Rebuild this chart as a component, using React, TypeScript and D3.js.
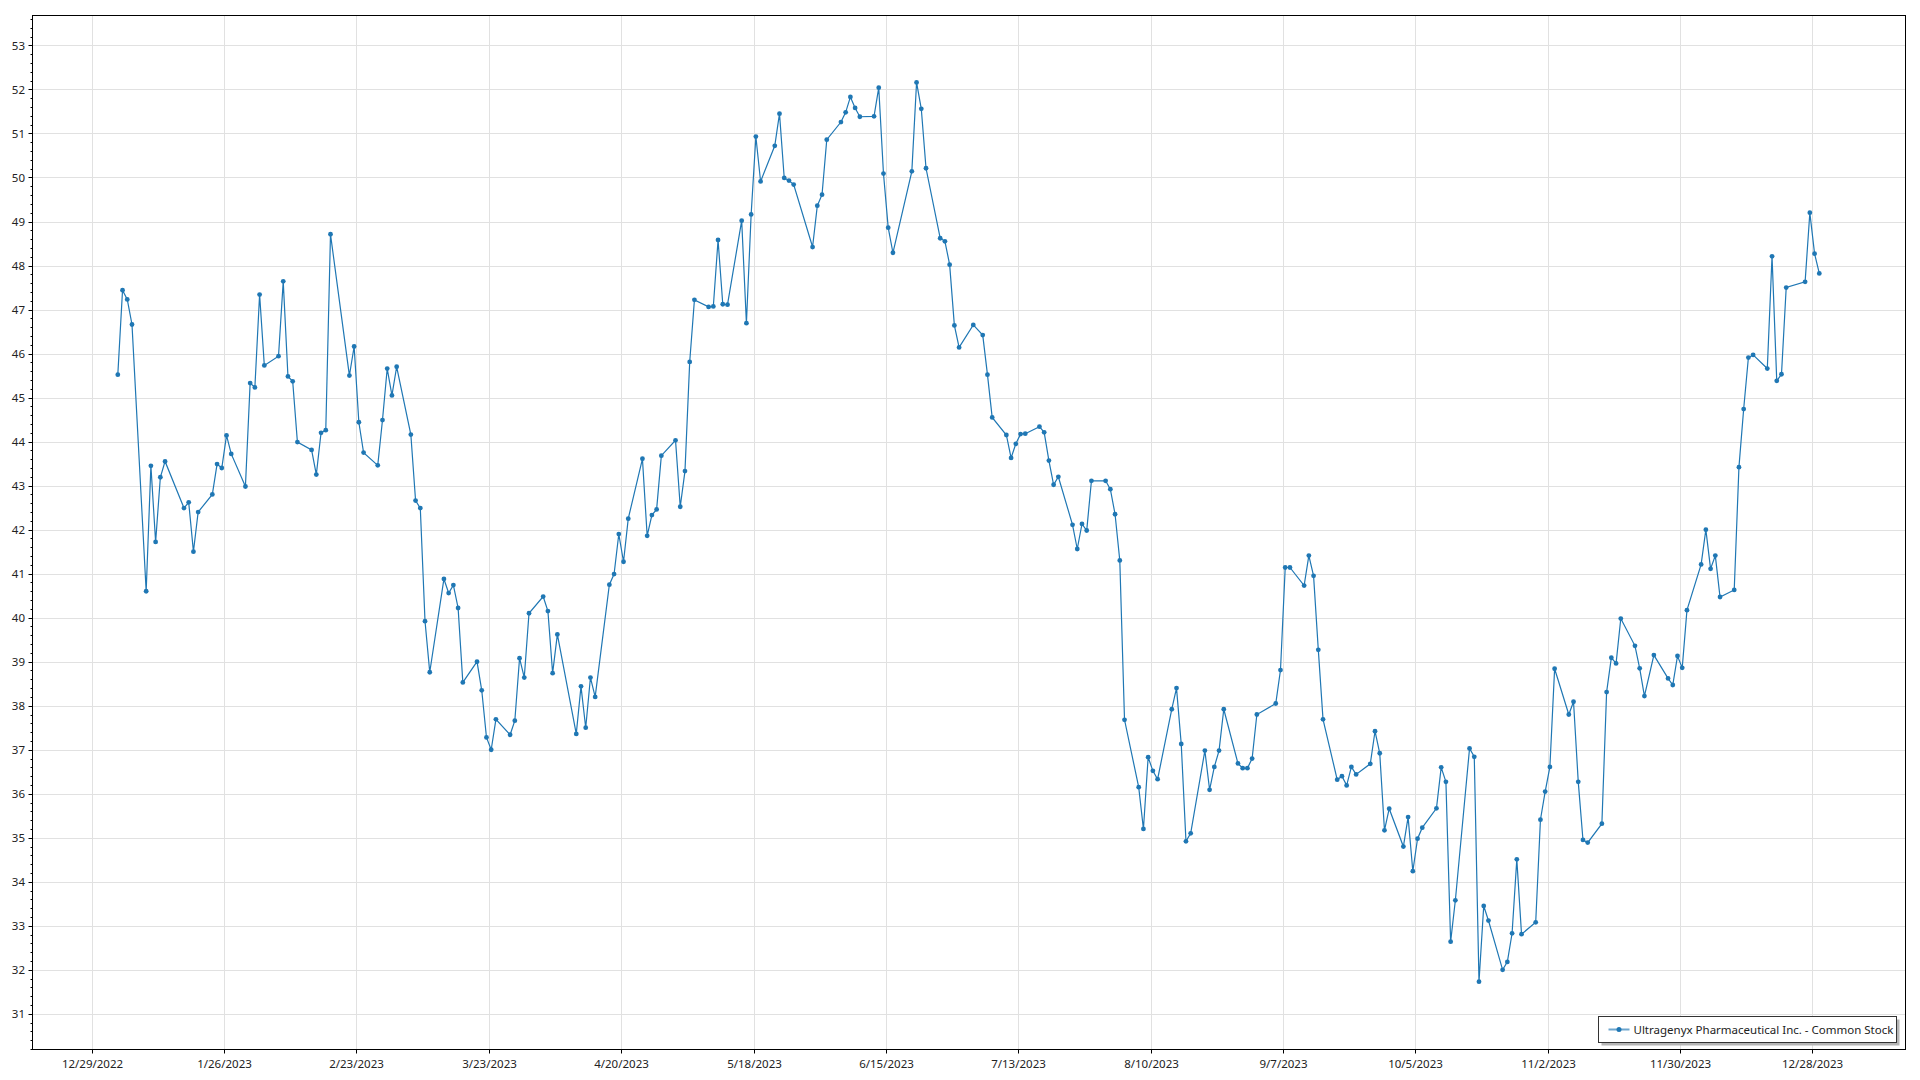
import React from 'react';
import * as d3 from 'd3';

const seriesName = 'Ultragenyx Pharmaceutical Inc. - Common Stock';

const tradingDates: string[] = [
  '2023-01-03','2023-01-04','2023-01-05','2023-01-06','2023-01-09','2023-01-10','2023-01-11','2023-01-12','2023-01-13','2023-01-17',
  '2023-01-18','2023-01-19','2023-01-20','2023-01-23','2023-01-24','2023-01-25','2023-01-26','2023-01-27','2023-01-30','2023-01-31',
  '2023-02-01','2023-02-02','2023-02-03','2023-02-06','2023-02-07','2023-02-08','2023-02-09','2023-02-10','2023-02-13','2023-02-14',
  '2023-02-15','2023-02-16','2023-02-17','2023-02-21','2023-02-22','2023-02-23','2023-02-24','2023-02-27','2023-02-28',
  '2023-03-01','2023-03-02','2023-03-03','2023-03-06','2023-03-07','2023-03-08','2023-03-09','2023-03-10','2023-03-13','2023-03-14',
  '2023-03-15','2023-03-16','2023-03-17','2023-03-20','2023-03-21','2023-03-22','2023-03-23','2023-03-24','2023-03-27','2023-03-28',
  '2023-03-29','2023-03-30','2023-03-31',
  '2023-04-03','2023-04-04','2023-04-05','2023-04-06','2023-04-10','2023-04-11','2023-04-12','2023-04-13','2023-04-14','2023-04-17',
  '2023-04-18','2023-04-19','2023-04-20','2023-04-21','2023-04-24','2023-04-25','2023-04-26','2023-04-27','2023-04-28',
  '2023-05-01','2023-05-02','2023-05-03','2023-05-04','2023-05-05','2023-05-08','2023-05-09','2023-05-10','2023-05-11','2023-05-12',
  '2023-05-15','2023-05-16','2023-05-17','2023-05-18','2023-05-19','2023-05-22','2023-05-23','2023-05-24','2023-05-25','2023-05-26',
  '2023-05-30','2023-05-31',
  '2023-06-01','2023-06-02','2023-06-05','2023-06-06','2023-06-07','2023-06-08','2023-06-09','2023-06-12','2023-06-13','2023-06-14',
  '2023-06-15','2023-06-16','2023-06-20','2023-06-21','2023-06-22','2023-06-23','2023-06-26','2023-06-27','2023-06-28','2023-06-29',
  '2023-06-30',
  '2023-07-03','2023-07-05','2023-07-06','2023-07-07','2023-07-10','2023-07-11','2023-07-12','2023-07-13','2023-07-14','2023-07-17',
  '2023-07-18','2023-07-19','2023-07-20','2023-07-21','2023-07-24','2023-07-25','2023-07-26','2023-07-27','2023-07-28','2023-07-31',
  '2023-08-01','2023-08-02','2023-08-03','2023-08-04','2023-08-07','2023-08-08','2023-08-09','2023-08-10','2023-08-11','2023-08-14',
  '2023-08-15','2023-08-16','2023-08-17','2023-08-18','2023-08-21','2023-08-22','2023-08-23','2023-08-24','2023-08-25','2023-08-28',
  '2023-08-29','2023-08-30','2023-08-31',
  '2023-09-01','2023-09-05','2023-09-06','2023-09-07','2023-09-08','2023-09-11','2023-09-12','2023-09-13','2023-09-14','2023-09-15',
  '2023-09-18','2023-09-19','2023-09-20','2023-09-21','2023-09-22','2023-09-25','2023-09-26','2023-09-27','2023-09-28','2023-09-29',
  '2023-10-02','2023-10-03','2023-10-04','2023-10-05','2023-10-06','2023-10-09','2023-10-10','2023-10-11','2023-10-12','2023-10-13',
  '2023-10-16','2023-10-17','2023-10-18','2023-10-19','2023-10-20','2023-10-23','2023-10-24','2023-10-25','2023-10-26','2023-10-27',
  '2023-10-30','2023-10-31',
  '2023-11-01','2023-11-02','2023-11-03','2023-11-06','2023-11-07','2023-11-08','2023-11-09','2023-11-10','2023-11-13','2023-11-14',
  '2023-11-15','2023-11-16','2023-11-17','2023-11-20','2023-11-21','2023-11-22','2023-11-24','2023-11-27','2023-11-28','2023-11-29',
  '2023-11-30',
  '2023-12-01','2023-12-04','2023-12-05','2023-12-06','2023-12-07','2023-12-08','2023-12-11','2023-12-12','2023-12-13','2023-12-14',
  '2023-12-15','2023-12-18','2023-12-19','2023-12-20','2023-12-21','2023-12-22','2023-12-26','2023-12-27','2023-12-28','2023-12-29',
];

const closePrices: number[] = [
  // Jan
  45.52, 47.44, 47.23, 46.66, 40.60, 43.45, 41.72, 43.19, 43.55, 42.49,
  42.62, 41.50, 42.40, 42.80, 43.49, 43.40, 44.14, 43.72, 42.98, 45.33,
  // Feb
  45.23, 47.34, 45.73, 45.94, 47.64, 45.48, 45.37, 43.99, 43.81, 43.25,
  44.20, 44.26, 48.71, 45.50, 46.16, 44.44, 43.75, 43.46, 44.49,
  // Mar
  45.66, 45.05, 45.70, 44.16, 42.66, 42.49, 39.92, 38.76, 40.88, 40.56,
  40.74, 40.22, 38.53, 39.00, 38.35, 37.28, 37.00, 37.69, 37.34, 37.66,
  39.08, 38.64, 40.10,
  // Apr
  40.48, 40.15, 38.74, 39.62, 37.36, 38.44, 37.50, 38.64, 38.20, 40.75,
  40.99, 41.90, 41.27, 42.25, 43.61, 41.86, 42.33, 42.46, 43.68,
  // May
  44.03, 42.52, 43.33, 45.81, 47.22, 47.06, 47.07, 48.58, 47.12, 47.11,
  49.02, 46.69, 49.16, 50.93, 49.91, 50.72, 51.45, 49.99, 49.93, 49.84,
  48.42, 49.36,
  // Jun
  49.61, 50.86, 51.26, 51.48, 51.83, 51.58, 51.38, 51.39, 52.04, 50.09,
  48.86, 48.29, 50.14, 52.16, 51.56, 50.21, 48.62, 48.55, 48.02, 46.64,
  46.14,
  // Jul
  46.65, 46.42, 45.52, 44.55, 44.15, 43.63, 43.95, 44.17, 44.18, 44.34,
  44.21, 43.57, 43.02, 43.20, 42.11, 41.56, 42.13, 41.98, 43.11, 43.11,
  // Aug
  42.92, 42.35, 41.30, 37.68, 36.15, 35.20, 36.83, 36.52, 36.33, 37.92,
  38.40, 37.13, 34.92, 35.10, 36.98, 36.09, 36.61, 36.98, 37.92, 36.69,
  36.58, 36.58, 36.80,
  // Sep
  37.80, 38.05, 38.81, 41.14, 41.14, 40.73, 41.41, 40.95, 39.27, 37.69,
  36.32, 36.40, 36.19, 36.61, 36.44, 36.68, 37.42, 36.92, 35.17, 35.66,
  // Oct
  34.80, 35.47, 34.24, 34.98, 35.23, 35.67, 36.60, 36.27, 32.64, 33.58,
  37.03, 36.84, 31.73, 33.45, 33.12, 32.00, 32.18, 32.83, 34.51, 32.81,
  33.08, 35.41,
  // Nov
  36.05, 36.61, 38.84, 37.80, 38.09, 36.27, 34.95, 34.89, 35.32, 38.31,
  39.09, 38.96, 39.98, 39.36, 38.85, 38.22, 39.15, 38.62, 38.47, 39.13,
  38.86,
  // Dec
  40.17, 41.21, 42.00, 41.11, 41.41, 40.47, 40.63, 43.42, 44.74, 45.91,
  45.97, 45.66, 48.21, 45.38, 45.53, 47.50, 47.63, 49.20, 48.27, 47.82,
];

const xTickLabels: string[] = [
  '12/29/2022', '1/26/2023', '2/23/2023', '3/23/2023', '4/20/2023', '5/18/2023', '6/15/2023',
  '7/13/2023', '8/10/2023', '9/7/2023', '10/5/2023', '11/2/2023', '11/30/2023', '12/28/2023',
];

const yTickValues: number[] = [31, 32, 33, 34, 35, 36, 37, 38, 39, 40, 41, 42, 43, 44, 45, 46, 47, 48, 49, 50, 51, 52, 53];

const W = 1920;
const H = 1080;
const PL = 32.5;
const PR = 1905.5;
const PT = 15.5;
const PB = 1049.5;
const LINE_COLOR = '#1f77b4';
const FONT = "'Noto Sans', 'Open Sans', sans-serif";

export default function App() {
  const parse = d3.timeParse('%Y-%m-%d');
  const parseTick = d3.timeParse('%m/%d/%Y');
  const HALF_DAY = 12 * 3600 * 1000;
  const data = tradingDates.map((d, i) => ({
    date: new Date((parse(d) as Date).getTime() + HALF_DAY),
    value: closePrices[i],
  }));

  const x = d3
    .scaleTime()
    .domain([new Date(2022, 11, 16, 10, 48), new Date(2024, 0, 16, 17, 45)])
    .range([PL, PR]);
  const y = d3.scaleLinear().domain([30.19, 53.68]).range([PB, PT]);

  const xTicks = xTickLabels.map((l) => ({ label: l, pos: Math.round(x(parseTick(l) as Date)) + 0.5 }));
  const minorY = d3.range(30.2, 53.68, 0.2).filter((v) => Math.abs(v - Math.round(v)) > 0.05);

  const line = d3
    .line<{ date: Date; value: number }>()
    .x((d) => x(d.date))
    .y((d) => y(d.value));

  const lgX = 1598.5;
  const lgY = 1016.5;
  const lgW = 298;
  const lgH = 26;

  return (
    <svg
      width={W}
      height={H}
      style={{ position: 'fixed', left: 0, top: 0, background: '#fff' }}
      fontFamily={FONT}
    >
      <rect x={0} y={0} width={W} height={H} fill="#fff" />
      <g stroke="#e1e1e1" strokeWidth={1}>
        {xTicks.map((t) => (
          <line key={'gx' + t.label} x1={t.pos} x2={t.pos} y1={PT} y2={PB} />
        ))}
        {yTickValues.map((v) => {
          const yy = Math.round(y(v)) + 0.5;
          return <line key={'gy' + v} x1={PL} x2={PR} y1={yy} y2={yy} />;
        })}
      </g>

      <g stroke="#000" strokeWidth={1}>
        {yTickValues.map((v) => {
          const yy = Math.round(y(v)) + 0.5;
          return <line key={'ty' + v} x1={PL - 4} x2={PL} y1={yy} y2={yy} />;
        })}
        {minorY.map((v, i) => {
          const yy = Math.round(y(v)) + 0.5;
          return <line key={'my' + i} x1={PL - 2} x2={PL} y1={yy} y2={yy} />;
        })}
        {xTicks.map((t) => (
          <line key={'tx' + t.label} x1={t.pos} x2={t.pos} y1={PB} y2={PB + 4} />
        ))}
      </g>
      <g fontSize={11.5} fill="#222">
        {yTickValues.map((v) => (
          <text key={'ly' + v} x={25} y={y(v)} textAnchor="end" dominantBaseline="central">
            {v}
          </text>
        ))}
        {xTicks.map((t) => (
          <text key={'lx' + t.label} x={t.pos} y={1063} textAnchor="middle" dominantBaseline="central">
            {t.label}
          </text>
        ))}
      </g>

      <path d={line(data) || ''} fill="none" stroke={LINE_COLOR} strokeWidth={1.2} />
      <g fill={LINE_COLOR}>
        {data.map((d, i) => (
          <circle key={'p' + i} cx={x(d.date)} cy={y(d.value)} r={2.4} />
        ))}
      </g>

      <rect x={PL} y={PT} width={PR - PL} height={PB - PT} fill="none" stroke="#000" strokeWidth={1} />

      <rect x={lgX + 3} y={lgY + 3} width={lgW} height={lgH} fill="#b4b4b4" />
      <rect x={lgX} y={lgY} width={lgW} height={lgH} fill="#fff" stroke="#333" strokeWidth={1} />
      <line x1={lgX + 10} x2={lgX + 31} y1={lgY + lgH / 2} y2={lgY + lgH / 2} stroke={LINE_COLOR} strokeOpacity={0.65} strokeWidth={2} />
      <circle cx={lgX + 20.5} cy={lgY + lgH / 2} r={2.5} fill={LINE_COLOR} />
      <text x={lgX + 35} y={lgY + lgH / 2} fontSize={11.5} fill="#222" dominantBaseline="central">
        {seriesName}
      </text>
    </svg>
  );
}
